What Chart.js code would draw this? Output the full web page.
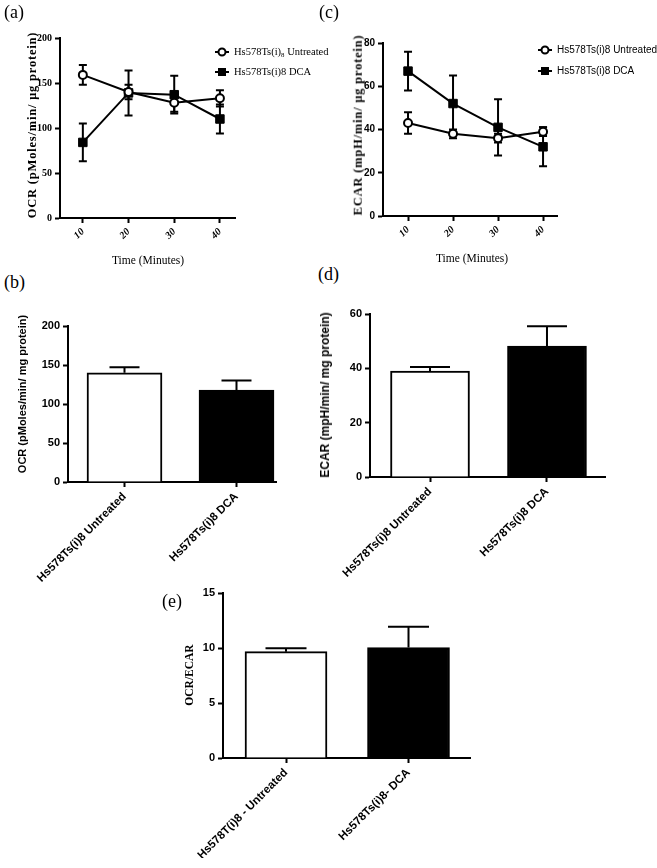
<!DOCTYPE html>
<html>
<head>
<meta charset="utf-8">
<script src="https://cdn.jsdelivr.net/npm/chart.js@4.4.0/dist/chart.umd.min.js"></script>
<style>
  body { margin: 0; background: #fff; }
  #page { position: relative; width: 657px; height: 868px; overflow: hidden; background: #fff; }
  canvas { position: absolute; }
  .t { position: absolute; white-space: nowrap; color: #000; line-height: 1; }
  .rot { transform: translate(-50%, -50%) rotate(-90deg); }
  .ctr { transform: translate(-50%, -50%); }
  .serif { font-family: 'Liberation Serif', 'Times New Roman', serif; }
  .sans { font-family: 'Liberation Sans', Arial, sans-serif; }
  .lbl { font-size: 18px; }
</style>
</head>
<body>
<div id="page">
  <canvas id="chartA" width="330" height="240" style="left:0px;top:20px"></canvas>
  <canvas id="chartC" width="327" height="240" style="left:330px;top:20px"></canvas>
  <canvas id="chartB" width="320" height="310" style="left:0px;top:300px"></canvas>
  <canvas id="chartD" width="327" height="320" style="left:330px;top:290px"></canvas>
  <canvas id="chartE" width="320" height="298" style="left:180px;top:570px"></canvas>

  <div class="t serif lbl" style="left:4px;top:3px">(a)</div>
  <div class="t serif lbl" style="left:319px;top:3px">(c)</div>
  <div class="t serif lbl" style="left:4px;top:273px">(b)</div>
  <div class="t serif lbl" style="left:318px;top:265px">(d)</div>
  <div class="t serif lbl" style="left:162px;top:592px">(e)</div>

  <div class="t serif rot" style="left:32px;top:125px;font-size:12.5px;font-weight:bold;letter-spacing:0.8px">OCR (pMoles/min/ μg protein)</div>
  <div class="t serif rot" style="left:358px;top:125px;font-size:12.5px;font-weight:bold;letter-spacing:0.8px">ECAR (mpH/min/ μg protein)</div>
  <div class="t serif ctr" style="left:148px;top:261px;font-size:11.5px">Time (Minutes)</div>
  <div class="t serif ctr" style="left:472px;top:259px;font-size:11.5px">Time (Minutes)</div>
  <div class="t sans rot" style="left:22px;top:394px;font-size:11px;font-weight:bold">OCR (pMoles/min/ mg protein)</div>
  <div class="t sans rot" style="left:325px;top:395px;font-size:12px;font-weight:bold">ECAR (mpH/min/ mg protein)</div>
  <div class="t serif rot" style="left:190px;top:675px;font-size:11.5px;font-weight:bold">OCR/ECAR</div>
</div>
<script>
// time course (a, c)
const timePoints = [10, 20, 30, 40];
const ocrUntreated = [159, 140, 128, 133];
const ocrUntreatedErr = [11, 8, 10, 9];
const ocrDca = [84, 139, 137, 110];
const ocrDcaErr = [21, 25, 21, 16];
const ecarUntreated = [43, 38, 36, 39];
const ecarUntreatedErr = [5, 2, 2, 2];
const ecarDca = [67, 52, 41, 32];
const ecarDcaErr = [9, 13, 13, 9];

// bar panels (b, d, e)
const groups = ['Hs578Ts(i)8 Untreated', 'Hs578Ts(i)8 DCA'];
const ratioGroups = ['Hs578T(i)8 - Untreated', 'Hs578Ts(i)8- DCA'];
const ocrMean = [140, 118];
const ocrMeanErr = [7, 12];
const ecarMean = [39, 48.2];
const ecarMeanErr = [1.5, 7.3];
const ratioMean = [9.67, 10.04];
const ratioErr = [0.3, 1.9];

const SERIF = "'Liberation Serif', 'Times New Roman', serif";
const SANS = "'Liberation Sans', Arial, sans-serif";

function drawErrors(chart, kind) {
  const ctx = chart.ctx;
  const y = chart.scales.y;
  chart.data.datasets.forEach((ds, i) => {
    if (!ds.errors || ds.errKind !== kind) return;
    const meta = chart.getDatasetMeta(i);
    meta.data.forEach((el, j) => {
      const v = ds.data[j].y, e = ds.errors[j];
      const top = y.getPixelForValue(v + e);
      const bot = ds.upOnly ? y.getPixelForValue(v) : y.getPixelForValue(v - e);
      const h = ds.capWidth / 2;
      ctx.save();
      ctx.strokeStyle = '#000';
      ctx.lineWidth = 2;
      ctx.beginPath();
      ctx.moveTo(el.x, top); ctx.lineTo(el.x, bot);
      ctx.moveTo(el.x - h, top); ctx.lineTo(el.x + h, top);
      if (!ds.upOnly) { ctx.moveTo(el.x - h, bot); ctx.lineTo(el.x + h, bot); }
      ctx.stroke();
      ctx.restore();
    });
  });
}

const errorBars = {
  id: 'errorBars',
  beforeDatasetsDraw(chart) { drawErrors(chart, 'line'); },
  afterDatasetsDraw(chart) { drawErrors(chart, 'bar'); }
};

// legend with a line through the marker, like the Prism one
const lineLegend = {
  id: 'lineLegend',
  afterDraw(chart, args, opts) {
    if (!opts.items) return;
    const ctx = chart.ctx;
    opts.items.forEach((it, k) => {
      const x = opts.x, yy = opts.y + k * opts.gap;
      ctx.save();
      ctx.strokeStyle = '#000';
      ctx.lineWidth = 2;
      ctx.beginPath(); ctx.moveTo(x, yy); ctx.lineTo(x + 14, yy); ctx.stroke();
      if (it.style === 'circle') {
        ctx.fillStyle = '#fff';
        ctx.beginPath(); ctx.arc(x + 7, yy, 3.5, 0, Math.PI * 2); ctx.fill(); ctx.stroke();
      } else {
        ctx.fillStyle = '#000';
        ctx.fillRect(x + 3, yy - 4, 8, 8);
      }
      ctx.fillStyle = '#000';
      ctx.textBaseline = 'middle';
      ctx.font = opts.size + 'px ' + opts.family;
      let tx = x + 19;
      ctx.fillText(it.text, tx, yy);
      tx += ctx.measureText(it.text).width;
      if (it.sub) {
        ctx.font = (opts.size * 0.65) + 'px ' + opts.family;
        ctx.fillText(it.sub, tx, yy + 3);
        tx += ctx.measureText(it.sub).width;
        ctx.font = opts.size + 'px ' + opts.family;
      }
      if (it.after) ctx.fillText(it.after, tx, yy);
      ctx.restore();
    });
  }
};

function yAxis(max, step, font, width) {
  return {
    min: 0, max: max,
    ticks: { stepSize: step, font: font, color: '#000', padding: 3 },
    grid: { drawOnChartArea: false, drawTicks: true, tickLength: 5, tickWidth: 2, tickColor: '#000' },
    border: { display: true, color: '#000', width: 2 },
    afterFit(s) { s.width = width; }
  };
}

function xAxis(min, max, values, font, height, cb) {
  return {
    type: 'linear', min: min, max: max, offset: false,
    afterBuildTicks(s) { s.ticks = values.map(v => ({ value: v })); },
    ticks: { font: font, color: '#000', minRotation: 45, maxRotation: 45, autoSkip: false, padding: 3, callback: cb },
    grid: { offset: false, drawOnChartArea: false, drawTicks: true, tickLength: 5, tickWidth: 2, tickColor: '#000' },
    border: { display: true, color: '#000', width: 2 },
    afterFit(s) { s.height = height; }
  };
}

function lineSets(untreated, uErr, dca, dErr) {
  return [
    {
      data: timePoints.map((t, i) => ({ x: t, y: untreated[i] })),
      errors: uErr, errKind: 'line', capWidth: 8,
      borderColor: '#000', borderWidth: 2, tension: 0,
      pointStyle: 'circle', pointRadius: 4, pointBackgroundColor: '#fff',
      pointBorderColor: '#000', pointBorderWidth: 2
    },
    {
      data: timePoints.map((t, i) => ({ x: t, y: dca[i] })),
      errors: dErr, errKind: 'line', capWidth: 8,
      borderColor: '#000', borderWidth: 2, tension: 0,
      pointStyle: 'rect', pointRadius: 6, pointBackgroundColor: '#000',
      pointBorderColor: '#000', pointBorderWidth: 1
    }
  ];
}

function barSet(means, errs, thick, cap) {
  return [{
    data: means.map((v, i) => ({ x: i + 1, y: v })),
    errors: errs, errKind: 'bar', upOnly: true, capWidth: cap,
    backgroundColor: ['#fff', '#000'], borderColor: '#000', borderWidth: 2,
    barThickness: thick
  }];
}

const basePlugins = { legend: { display: false }, tooltip: { enabled: false } };
const italicSerif = { family: SERIF, size: 10, weight: 'bold', style: 'italic' };

// (a) OCR time course
new Chart(document.getElementById('chartA'), {
  type: 'line',
  data: { datasets: lineSets(ocrUntreated, ocrUntreatedErr, ocrDca, ocrDcaErr) },
  options: {
    responsive: false, animation: false, devicePixelRatio: 1,
    layout: { padding: { left: 15, top: 18, right: 95, bottom: 12 } },
    scales: {
      x: xAxis(5, 43.3, timePoints, italicSerif, 30),
      y: yAxis(200, 50, { family: SERIF, size: 10, weight: 'bold' }, 45)
    },
    plugins: Object.assign({}, basePlugins, {
      lineLegend: {
        x: 215, y: 32, gap: 20, size: 10.5, family: SERIF,
        items: [
          { text: 'Hs578Ts(i)', sub: '8', after: ' Untreated', style: 'circle' },
          { text: 'Hs578Ts(i)8 DCA', style: 'rect' }
        ]
      }
    })
  },
  plugins: [errorBars, lineLegend]
});

// (c) ECAR time course
new Chart(document.getElementById('chartC'), {
  type: 'line',
  data: { datasets: lineSets(ecarUntreated, ecarUntreatedErr, ecarDca, ecarDcaErr) },
  options: {
    responsive: false, animation: false, devicePixelRatio: 1,
    layout: { padding: { left: 13, top: 23, right: 100, bottom: 14 } },
    scales: {
      x: xAxis(4.44, 43.1, timePoints, italicSerif, 30),
      y: yAxis(80, 20, { family: SANS, size: 10, weight: 'bold' }, 40)
    },
    plugins: Object.assign({}, basePlugins, {
      lineLegend: {
        x: 208, y: 30, gap: 21, size: 10, family: SANS,
        items: [
          { text: 'Hs578Ts(i)8 Untreated', style: 'circle' },
          { text: 'Hs578Ts(i)8 DCA', style: 'rect' }
        ]
      }
    })
  },
  plugins: [errorBars, lineLegend]
});

const barTickFont = { family: SANS, size: 11.5, weight: 'bold' };

// (b) OCR bars
new Chart(document.getElementById('chartB'), {
  type: 'bar',
  data: { datasets: barSet(ocrMean, ocrMeanErr, 75, 30) },
  options: {
    responsive: false, animation: false, devicePixelRatio: 1,
    layout: { padding: { left: 18, top: 26, right: 44, bottom: 8 } },
    scales: {
      x: xAxis(0.4955, 2.3527, [1, 2], barTickFont, 120, v => groups[v - 1]),
      y: yAxis(200, 50, { family: SANS, size: 11, weight: 'bold' }, 50)
    },
    plugins: basePlugins
  },
  plugins: [errorBars]
});

// (d) ECAR bars
new Chart(document.getElementById('chartD'), {
  type: 'bar',
  data: { datasets: barSet(ecarMean, ecarMeanErr, 79, 40) },
  options: {
    responsive: false, animation: false, devicePixelRatio: 1,
    layout: { padding: { left: 10, top: 24, right: 52, bottom: 13 } },
    scales: {
      x: xAxis(0.487, 2.496, [1, 2], barTickFont, 120, v => groups[v - 1]),
      y: yAxis(60, 20, { family: SANS, size: 11, weight: 'bold' }, 30)
    },
    plugins: basePlugins
  },
  plugins: [errorBars]
});

// (e) OCR/ECAR ratio
new Chart(document.getElementById('chartE'), {
  type: 'bar',
  data: { datasets: barSet(ratioMean, ratioErr, 82, 41) },
  options: {
    responsive: false, animation: false, devicePixelRatio: 1,
    layout: { padding: { left: 13, top: 23, right: 30, bottom: 10 } },
    scales: {
      x: xAxis(0.4857, 2.502, [1, 2], barTickFont, 100, v => ratioGroups[v - 1]),
      y: yAxis(15, 5, { family: SANS, size: 11, weight: 'bold' }, 30)
    },
    plugins: basePlugins
  },
  plugins: [errorBars]
});
</script>
</body>
</html>
